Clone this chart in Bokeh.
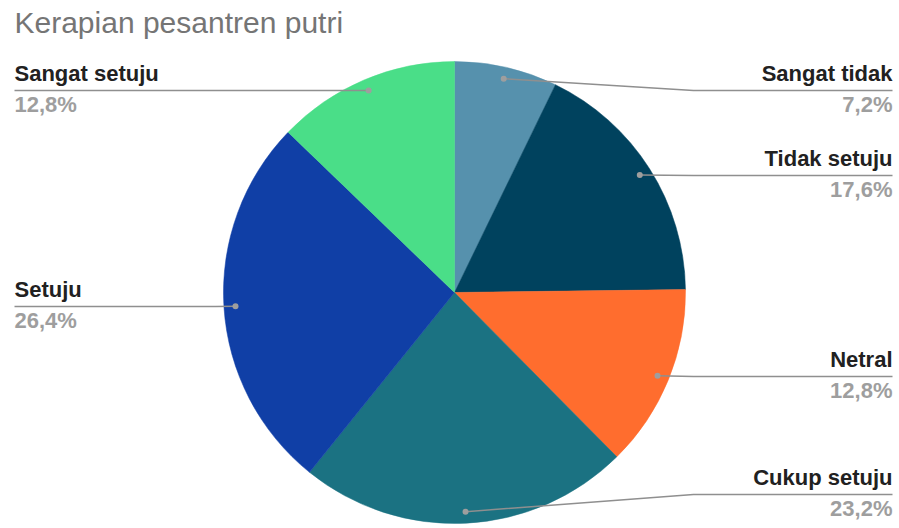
import math
from bokeh.plotting import figure
from bokeh.models import Range1d, ColumnDataSource
from bokeh.core.properties import value
from bokeh.embed import file_html
from bokeh.resources import INLINE

# ---- data ----
title_text = "Kerapian pesantren putri"
categories = ["Sangat tidak", "Tidak setuju", "Netral", "Cukup setuju", "Setuju", "Sangat setuju"]
percents = [7.2, 17.6, 12.8, 23.2, 26.4, 12.8]
pct_labels = ["7,2%", "17,6%", "12,8%", "23,2%", "26,4%", "12,8%"]
colors = ["#5691ad", "#00425e", "#ff6d2e", "#1b7282", "#103fa6", "#4ade88"]

# ---- layout (screen px) ----
W, H = 899, 528
def Y(sy):
    return H - sy

cx, cy, r = 454, 292, 231
label_side = ["right", "right", "right", "right", "left", "left"]
label_line_y = [90, 175, 376, 494, 306, 90]
right_x, left_x = 892, 14
right_elbow, left_elbow = 693, 215
dot_frac = 0.95
LBL = 22
TTL = 30
off_l = 0.39 * LBL
off_t = 0.39 * TTL

p = figure(width=W, height=H, output_backend="svg", toolbar_location=None,
           x_range=Range1d(0, W), y_range=Range1d(0, H),
           min_border=0, outline_line_color=None, background_fill_color="white")
p.axis.visible = False
p.grid.visible = False

total = sum(percents)
starts, ends, mids = [], [], []
cum = 0.0
for v in percents:
    a0 = cum / total
    cum += v
    a1 = cum / total
    starts.append(math.pi / 2 - 2 * math.pi * a1)
    ends.append(math.pi / 2 - 2 * math.pi * a0)
    mids.append(2 * math.pi * (a0 + a1) / 2)  # clockwise from top

src = ColumnDataSource(dict(x=[cx] * len(categories), y=[Y(cy)] * len(categories),
                            start=starts, end=ends, color=colors, cat=categories))
p.wedge(x="x", y="y", radius=r, start_angle="start", end_angle="end",
        fill_color="color", line_color="color", line_width=0.5, source=src)

xs, ys, dx, dy = [], [], [], []
for i, m in enumerate(mids):
    px = cx + dot_frac * r * math.sin(m)
    py = cy - dot_frac * r * math.cos(m)
    ly = label_line_y[i]
    dx.append(px); dy.append(Y(py))
    if label_side[i] == "right":
        xs.append([px, right_elbow, right_x])
    else:
        xs.append([px, left_elbow, left_x])
    ys.append([Y(py), Y(ly), Y(ly)])

p.multi_line(xs=xs, ys=ys, line_color="#8f8f8f", line_width=1.5)
p.scatter(x=dx, y=dy, size=6, fill_color="#9e9e9e", line_color=None)

font = value("Liberation Sans")
for side in ("right", "left"):
    idx = [i for i in range(len(categories)) if label_side[i] == side]
    tx = [right_x if side == "right" else left_x] * len(idx)
    align = "right" if side == "right" else "left"
    p.text(x=tx, y=[Y(label_line_y[i] - 8 - off_l) for i in idx], text=[categories[i] for i in idx],
           text_font=font, text_font_size=f"{LBL}px", text_font_style="bold",
           text_color="#212121", text_align=align, text_baseline="alphabetic")
    p.text(x=tx, y=[Y(label_line_y[i] + 23 - off_l) for i in idx], text=[pct_labels[i] for i in idx],
           text_font=font, text_font_size=f"{LBL}px", text_font_style="bold",
           text_color="#9e9e9e", text_align=align, text_baseline="alphabetic")

p.text(x=[14], y=[Y(34 - off_t)], text=[title_text], text_font=font, text_font_size=f"{TTL}px",
       text_color="#757575", text_align="left", text_baseline="alphabetic")

open("out.html", "w").write(file_html(p, INLINE))
